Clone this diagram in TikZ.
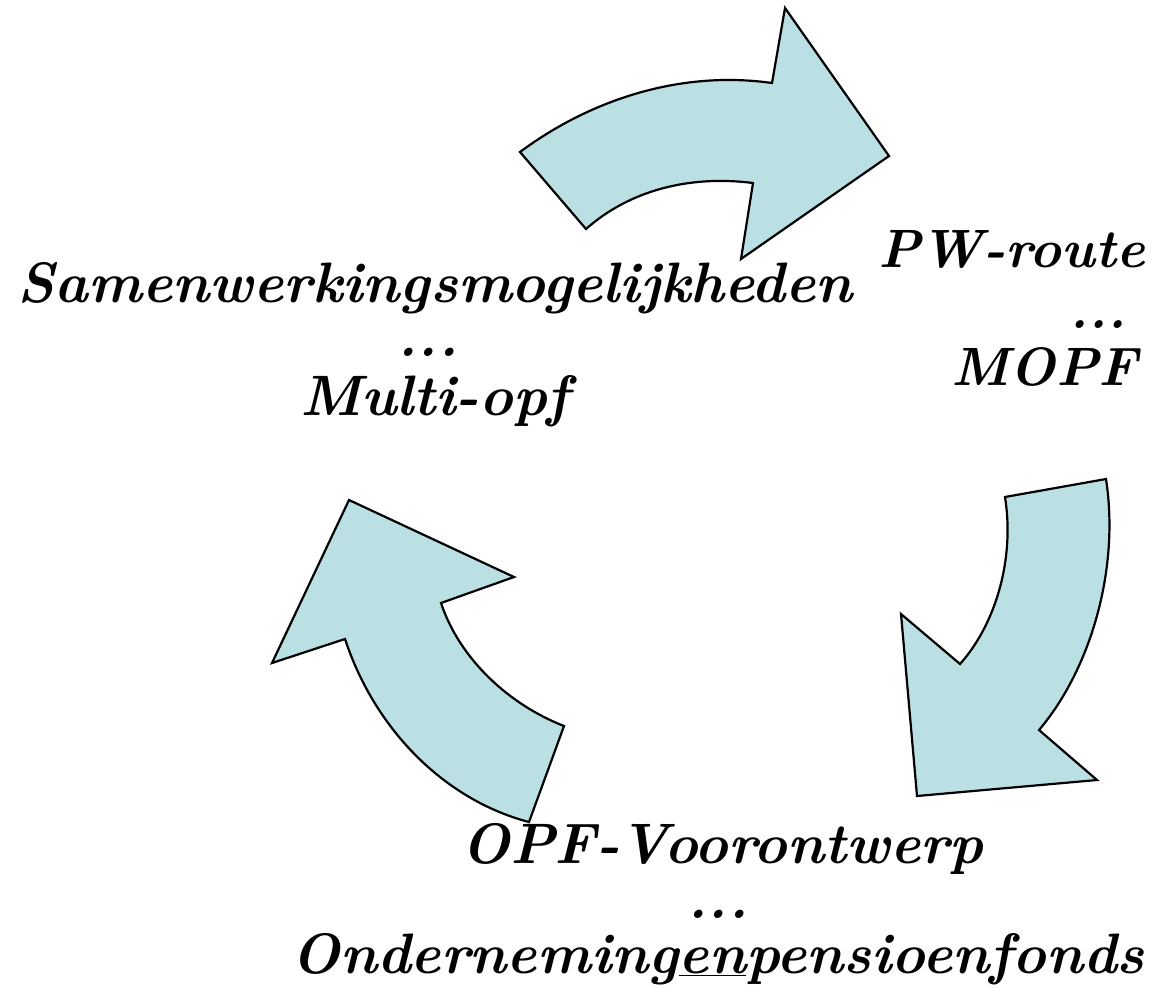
\documentclass[tikz,border=0pt]{standalone}
\usepackage{fontspec}
\setmainfont{Latin Modern Roman}
\definecolor{arrowfill}{RGB}{187,224,227}
\tikzset{
  bigarrow/.style={draw=black, line width=2.2pt, fill=arrowfill, line join=miter},
  lbl/.style={inner sep=0pt, font=\fontsize{57}{57}\selectfont\bfseries\itshape},
  lblr/.style={inner sep=0pt, font=\fontsize{54}{54}\selectfont\bfseries\itshape}
}
\begin{document}
\begin{tikzpicture}[x=1pt,y=-1pt]
\useasboundingbox (0,0) rectangle (1153,996);
% top arrow
\path[bigarrow] (520,152) .. controls (590,100) and (680,70) .. (772,83)
  -- (785,8) -- (889,156) -- (741,259) -- (753,183)
  .. controls (690,175) and (630,190) .. (586,229) -- cycle;
% right arrow
\path[bigarrow] (1005,497) -- (1106,479)
  .. controls (1120,570) and (1090,670) .. (1039,730)
  -- (1097,780) -- (917,796) -- (901,614) -- (960,664)
  .. controls (995,625) and (1015,560) .. (1005,497) -- cycle;
% left arrow
\path[bigarrow] (349,500) -- (514,577) -- (441,603)
  .. controls (460,660) and (510,705) .. (564,726)
  -- (529,822)
  .. controls (445,800) and (375,730) .. (345,639)
  -- (272,663) -- cycle;
% texts
\node[lbl, anchor=base] (s1) at (435,302) {Samenwerkingsmogelijkheden};
\node[lbl, anchor=base] (s2) at (428,356) {...};
\node[lbl, anchor=base] (s3) at (435,415) {Multi-opf};
\node[lblr, anchor=base east] (p1) at (1145,267) {PW-route};
\node[lblr, anchor=base east] (p2) at (1127,328) {...};
\node[lblr, anchor=base east] (p3) at (1138,385) {MOPF};
\node[lbl, anchor=base] (o1) at (722,863) {OPF-Voorontwerp};
\node[lbl, anchor=base] (o2) at (718,918) {...};
\node[lbl, anchor=base] (o3) at (718,973) {Onderneming\underline{en}pensioenfonds};
\end{tikzpicture}
\end{document}
